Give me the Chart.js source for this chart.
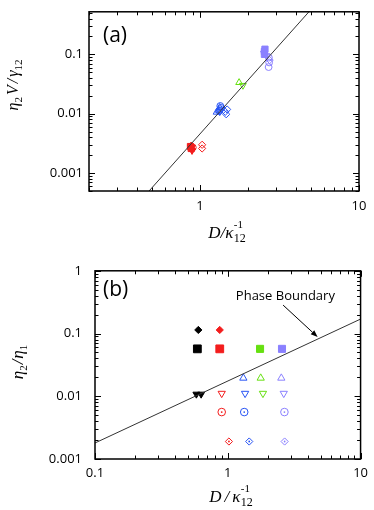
<!DOCTYPE html>
<html><head><meta charset="utf-8">
<script src="https://cdn.jsdelivr.net/npm/chart.js@4/dist/chart.umd.min.js"></script>
<style>
html,body{margin:0;padding:0;background:#fff;overflow:hidden;width:374px;height:510px;}
body{position:relative}
#ca{position:absolute;left:0;top:-2px}
#cb{position:absolute;left:0;top:250px}
</style></head><body>
<canvas id="ca" width="374" height="252"></canvas>
<canvas id="cb" width="374" height="260"></canvas>
<script>
// ---------------- Panel (a) data ----------------
const aXRange = [0.2, 10];
const aYRange = [0.0005, 0.52];
const aXTicks = [1, 10];
const aXTickLabels = ['1', '10'];
const aYTicks = [0.001, 0.01, 0.1];
const aYTickLabels = ['0.001', '0.01', '0.1'];
const aFitX = [0.4, 6];
const aFitY = [0.000294, 0.99];

const aRedSqX = [0.87, 0.88];        const aRedSqY = [0.0028, 0.0026];
const aRedDiaX = [0.88];             const aRedDiaY = [0.0029];
const aRedTriDownX = [0.89];         const aRedTriDownY = [0.0024];
const aRedCircX = [0.90];            const aRedCircY = [0.0027];
const aRedOpenDiaX = [1.03, 1.03];   const aRedOpenDiaY = [0.0030, 0.0026];

const aBlueTriUpX = [1.27, 1.31, 1.33];   const aBlueTriUpY = [0.0106, 0.0114, 0.0128];
const aBlueTriDownX = [1.33, 1.36];       const aBlueTriDownY = [0.0108, 0.0120];
const aBlueCircX = [1.34, 1.36, 1.32];    const aBlueCircY = [0.0135, 0.0125, 0.0112];
const aBlueDiaX = [1.46, 1.48, 1.44];     const aBlueDiaY = [0.0098, 0.0118, 0.0108];

const aGreenTriUpX = [1.76];    const aGreenTriUpY = [0.0335];
const aGreenTriDownX = [1.86];  const aGreenTriDownY = [0.030];

const aPurpSqX = [2.54, 2.54, 2.56];      const aPurpSqY = [0.112, 0.100, 0.122];
const aPurpTriUpX = [2.52];               const aPurpTriUpY = [0.118];
const aPurpTriDownX = [2.62];             const aPurpTriDownY = [0.095];
const aPurpCircX = [2.71, 2.72, 2.70];    const aPurpCircY = [0.088, 0.073, 0.061];
const aPurpDiaX = [2.74];                 const aPurpDiaY = [0.080];

// ---------------- Panel (b) data ----------------
const bXRange = [0.1, 10];
const bYRange = [0.001, 1];
const bXTicks = [0.1, 1, 10];
const bXTickLabels = ['0.1', '1', '10'];
const bYTicks = [0.001, 0.01, 0.1, 1];
const bYTickLabels = ['0.001', '0.01', '0.1', '1'];
const bBoundaryX = [0.1, 10];
const bBoundaryY = [0.0018, 0.17];
const bLabelText = 'Phase Boundary';
const bLabelPos = [1.15, 0.34];
const bArrowFrom = [2.61, 0.284];
const bArrowTo = [4.75, 0.088];

const bBlackDiaX = [0.60];  const bBlackDiaY = [0.114];
const bRedDiaX = [0.87];    const bRedDiaY = [0.114];
const bSqBlackX = [0.59];   const bSqBlackY = [0.057];
const bSqRedX = [0.87];     const bSqRedY = [0.057];
const bSqGreenX = [1.75];   const bSqGreenY = [0.057];
const bSqPurpX = [2.56];    const bSqPurpY = [0.057];
const bBlackTriDownX = [0.58, 0.63]; const bBlackTriDownY = [0.0108, 0.0108];
const bTriUpBlueX = [1.31];  const bTriUpGreenX = [1.77];  const bTriUpPurpX = [2.53];
const bTriUpY = [0.0195];
const bTriDownRedX = [0.90]; const bTriDownBlueX = [1.35]; const bTriDownGreenX = [1.84]; const bTriDownPurpX = [2.64];
const bTriDownY = [0.0111];
const bCircRedX = [0.90];  const bCircBlueX = [1.33];  const bCircPurpX = [2.67];
const bCircY = [0.0056];
const bDiaRedX = [1.02];   const bDiaBlueX = [1.45];   const bDiaPurpX = [2.68];
const bDiaY = [0.0019];

// ---------------- styles ----------------
const RED = '#f31d1d', BLUE = '#2854f4', GREEN = '#66e010', PURP = '#8a80ff', BLACK = '#000000';
const TICKFONT = {family: 'Open Sans', size: 13};
const SERIF = 'Liberation Serif';

function P(xs, ys) { return xs.map((x, i) => ({x: x, y: ys[i] !== undefined ? ys[i] : ys[0]})); }
function mk(xs, ys, style, color, filled, r, rot) {
  return {type: 'scatter', data: P(xs, ys), showLine: false,
    pointStyle: style, pointRadius: r, pointRotation: rot || 0,
    pointBackgroundColor: filled ? color : 'rgba(255,255,255,0)',
    pointBorderColor: color, pointBorderWidth: 1};
}
function dot(xs, ys, color) {
  return {type: 'scatter', data: P(xs, ys), showLine: false, pointStyle: 'circle',
    pointRadius: 0.9, pointBackgroundColor: color, pointBorderColor: color, pointBorderWidth: 0};
}
function lineDs(xs, ys, color) {
  return {type: 'scatter', data: P(xs, ys), showLine: true, borderColor: color, borderWidth: 1,
    pointRadius: 0, fill: false, tension: 0};
}
function logAxis(range, ticks, labels, pos, pad, size) {
  return {type: 'logarithmic', position: pos, min: range[0], max: range[1],
    grid: {display: false, drawTicks: false}, border: {display: false},
    ticks: {padding: pad, font: TICKFONT, color: '#000', autoSkip: false, maxRotation: 0, minRotation: 0,
      callback: function (v, i) { return labels[i]; }},
    afterBuildTicks: function (s) { s.ticks = ticks.map(v => ({value: v})); },
    afterFit: function (s) { if (pos === 'left') s.width = size; else s.height = size; }};
}
function minorVals(min, max) {
  const out = [];
  for (let n = Math.floor(Math.log10(min)) - 1; n <= Math.ceil(Math.log10(max)); n++) {
    for (let d = 1; d <= 9; d++) {
      const v = d * Math.pow(10, n);
      if (v >= min * 0.999 && v <= max * 1.001) out.push({v: v, major: d === 1});
    }
  }
  return out;
}
function drawRich(ctx, parts, cx, cy) {
  let total = 0, pending = 0;
  const ws = parts.map(p => { ctx.font = p.f; return ctx.measureText(p.t).width; });
  parts.forEach((p, i) => {
    if (p.stack) { pending = Math.max(pending, ws[i]); }
    else { total += Math.max(ws[i], pending) + (p.after || 0); pending = 0; }
  });
  let x = cx - total / 2;
  pending = 0;
  parts.forEach((p, i) => {
    ctx.font = p.f;
    ctx.fillText(p.t, x, cy + (p.dy || 0));
    if (p.stack) { pending = Math.max(pending, ws[i]); }
    else { x += Math.max(ws[i], pending) + (p.after || 0); pending = 0; }
  });
}
function decoPlugin(cfg) {
  return {
    id: 'deco',
    afterDatasetsDraw(chart) {
      const ctx = chart.ctx, a = chart.chartArea, sx = chart.scales.x, sy = chart.scales.y;
      ctx.save();
      ctx.strokeStyle = '#000';
      ctx.lineWidth = 1;
      ctx.beginPath();
      minorVals(sx.min, sx.max).forEach(t => {
        const px = Math.round(sx.getPixelForValue(t.v)) + 0.5, L = t.major ? 6 : 3.5;
        ctx.moveTo(px, a.bottom); ctx.lineTo(px, a.bottom - L);
        ctx.moveTo(px, a.top); ctx.lineTo(px, a.top + L);
      });
      minorVals(sy.min, sy.max).forEach(t => {
        const py = Math.round(sy.getPixelForValue(t.v)) + 0.5, L = t.major ? 6 : 3.5;
        ctx.moveTo(a.left, py); ctx.lineTo(a.left + L, py);
        ctx.moveTo(a.right, py); ctx.lineTo(a.right - L, py);
      });
      ctx.stroke();
      ctx.lineWidth = 1.5;
      ctx.strokeRect(a.left, a.top, a.right - a.left, a.bottom - a.top);
      ctx.fillStyle = '#000';
      // panel label
      ctx.font = '21px "Open Sans"';
      ctx.textAlign = 'left'; ctx.textBaseline = 'middle';
      ctx.fillText(cfg.panel, a.left + cfg.panelDx, a.top + cfg.panelDy);
      // titles
      ctx.textAlign = 'left'; ctx.textBaseline = 'alphabetic';
      drawRich(ctx, cfg.xTitle, cfg.xTitlePos[0], cfg.xTitlePos[1]);
      ctx.save();
      ctx.translate(cfg.yTitlePos[0], cfg.yTitlePos[1]);
      ctx.rotate(-Math.PI / 2);
      drawRich(ctx, cfg.yTitle, 0, 0);
      ctx.restore();
      if (cfg.extra) cfg.extra(chart);
      ctx.restore();
    }
  };
}
const it = s => 'italic ' + s + 'px ' + SERIF;
const up = s => s + 'px ' + SERIF;

// ---------------- Chart (a) ----------------
const dsA = [
  lineDs(aFitX, aFitY, '#333'),
  mk(aRedSqX, aRedSqY, 'rect', RED, true, 4.4),
  mk(aRedDiaX, aRedDiaY, 'rectRot', RED, true, 3.6),
  mk(aRedTriDownX, aRedTriDownY, 'triangle', RED, true, 3.9, 180),
  mk(aRedCircX, aRedCircY, 'circle', RED, false, 3.4),
  mk(aRedOpenDiaX, aRedOpenDiaY, 'rectRot', RED, false, 3.6),
  mk(aBlueTriUpX, aBlueTriUpY, 'triangle', BLUE, false, 3.9),
  mk(aBlueTriDownX, aBlueTriDownY, 'triangle', BLUE, false, 3.9, 180),
  mk(aBlueCircX, aBlueCircY, 'circle', BLUE, false, 3.4),
  mk(aBlueDiaX, aBlueDiaY, 'rectRot', BLUE, false, 3.6),
  mk(aGreenTriUpX, aGreenTriUpY, 'triangle', GREEN, false, 3.9),
  mk(aGreenTriDownX, aGreenTriDownY, 'triangle', GREEN, false, 3.9, 180),
  mk(aPurpSqX, aPurpSqY, 'rect', PURP, true, 4.4),
  mk(aPurpTriUpX, aPurpTriUpY, 'triangle', PURP, false, 3.9),
  mk(aPurpTriDownX, aPurpTriDownY, 'triangle', PURP, false, 3.9, 180),
  mk(aPurpCircX, aPurpCircY, 'circle', PURP, false, 3.4),
  mk(aPurpDiaX, aPurpDiaY, 'rectRot', PURP, false, 3.6)
];
new Chart(document.getElementById('ca'), {
  type: 'scatter',
  data: {datasets: dsA},
  options: {
    responsive: false, animation: false, devicePixelRatio: 1,
    layout: {padding: {left: 0, right: 15, top: 1, bottom: 0}},
    plugins: {legend: {display: false}, tooltip: {enabled: false}},
    scales: {
      x: logAxis(aXRange, aXTicks, aXTickLabels, 'bottom', 7, 59),
      y: logAxis(aYRange, aYTicks, aYTickLabels, 'left', 6, 89)
    }
  },
  plugins: [decoPlugin({
    panel: '(a)', panelDx: 14, panelDy: 24,
    xTitle: [{t: 'D', f: it(17)}, {t: '/', f: it(17)}, {t: 'κ', f: it(17), after: 0.5},
             {t: '-1', f: up(11), dy: -10, stack: true}, {t: '12', f: up(12), dy: 4}],
    xTitlePos: [227, 240],
    yTitle: [{t: 'η', f: it(16)}, {t: '2', f: up(11), dy: 4, after: 2}, {t: 'V', f: it(16), after: 2},
             {t: '/', f: it(16), after: 2}, {t: 'γ', f: it(16)}, {t: '12', f: up(11), dy: 4}],
    yTitlePos: [18, 87]
  })]
});

// ---------------- Chart (b) ----------------
const dsB = [
  lineDs(bBoundaryX, bBoundaryY, '#333'),
  mk(bBlackDiaX, bBlackDiaY, 'rectRot', BLACK, true, 3.6),
  mk(bRedDiaX, bRedDiaY, 'rectRot', RED, true, 3.6),
  mk(bSqBlackX, bSqBlackY, 'rect', BLACK, true, 5.5),
  mk(bSqRedX, bSqRedY, 'rect', RED, true, 5.5),
  mk(bSqGreenX, bSqGreenY, 'rect', GREEN, true, 5.0),
  mk(bSqPurpX, bSqPurpY, 'rect', PURP, true, 5.0),
  mk(bBlackTriDownX, bBlackTriDownY, 'triangle', BLACK, true, 4.0, 180),
  mk(bTriUpBlueX, bTriUpY, 'triangle', BLUE, false, 4.2),
  mk(bTriUpGreenX, bTriUpY, 'triangle', GREEN, false, 4.2),
  mk(bTriUpPurpX, bTriUpY, 'triangle', PURP, false, 4.2),
  mk(bTriDownRedX, bTriDownY, 'triangle', RED, false, 4.2, 180),
  mk(bTriDownBlueX, bTriDownY, 'triangle', BLUE, false, 4.2, 180),
  mk(bTriDownGreenX, bTriDownY, 'triangle', GREEN, false, 4.2, 180),
  mk(bTriDownPurpX, bTriDownY, 'triangle', PURP, false, 4.2, 180),
  mk(bCircRedX, bCircY, 'circle', RED, false, 3.8), dot(bCircRedX, bCircY, RED),
  mk(bCircBlueX, bCircY, 'circle', BLUE, false, 3.8), dot(bCircBlueX, bCircY, BLUE),
  mk(bCircPurpX, bCircY, 'circle', PURP, false, 3.8), dot(bCircPurpX, bCircY, PURP),
  mk(bDiaRedX, bDiaY, 'rectRot', RED, false, 3.6), dot(bDiaRedX, bDiaY, RED),
  mk(bDiaBlueX, bDiaY, 'rectRot', BLUE, false, 3.6), dot(bDiaBlueX, bDiaY, BLUE),
  mk(bDiaPurpX, bDiaY, 'rectRot', PURP, false, 3.6), dot(bDiaPurpX, bDiaY, PURP)
];
function annotateB(chart) {
  const ctx = chart.ctx, sx = chart.scales.x, sy = chart.scales.y;
  ctx.fillStyle = '#000';
  ctx.font = '13px "Open Sans"';
  ctx.textAlign = 'left'; ctx.textBaseline = 'alphabetic';
  ctx.fillText(bLabelText, sx.getPixelForValue(bLabelPos[0]), sy.getPixelForValue(bLabelPos[1]));
  const x0 = sx.getPixelForValue(bArrowFrom[0]), y0 = sy.getPixelForValue(bArrowFrom[1]);
  const x1 = sx.getPixelForValue(bArrowTo[0]), y1 = sy.getPixelForValue(bArrowTo[1]);
  const ang = Math.atan2(y1 - y0, x1 - x0), L = 7, W = 2.6;
  ctx.strokeStyle = '#000'; ctx.lineWidth = 1;
  ctx.beginPath(); ctx.moveTo(x0, y0);
  ctx.lineTo(x1 - L * Math.cos(ang), y1 - L * Math.sin(ang)); ctx.stroke();
  ctx.beginPath();
  ctx.moveTo(x1, y1);
  ctx.lineTo(x1 - L * Math.cos(ang) + W * Math.sin(ang), y1 - L * Math.sin(ang) - W * Math.cos(ang));
  ctx.lineTo(x1 - L * Math.cos(ang) - W * Math.sin(ang), y1 - L * Math.sin(ang) + W * Math.cos(ang));
  ctx.closePath(); ctx.fill();
}
new Chart(document.getElementById('cb'), {
  type: 'scatter',
  data: {datasets: dsB},
  options: {
    responsive: false, animation: false, devicePixelRatio: 1,
    layout: {padding: {left: 0, right: 10, top: 17, bottom: 0}},
    plugins: {legend: {display: false}, tooltip: {enabled: false}},
    scales: {
      x: logAxis(bXRange, bXTicks, bXTickLabels, 'bottom', 6, 51),
      y: logAxis(bYRange, bYTicks, bYTickLabels, 'left', 13, 95)
    }
  },
  plugins: [decoPlugin({
    panel: '(b)', panelDx: 8, panelDy: 19,
    xTitle: [{t: 'D', f: it(17), after: 3}, {t: '/', f: it(17), after: 3}, {t: 'κ', f: it(17), after: 0.5},
             {t: '-1', f: up(11), dy: -10, stack: true}, {t: '12', f: up(12), dy: 4}],
    xTitlePos: [231, 252],
    yTitle: [{t: 'η', f: it(17)}, {t: '2', f: up(11), dy: 4, after: 1}, {t: '/', f: it(17), after: 1},
             {t: 'η', f: it(17)}, {t: '1', f: up(11), dy: 4}],
    yTitlePos: [23, 112],
    extra: annotateB
  })]
});
</script>
</body></html>
